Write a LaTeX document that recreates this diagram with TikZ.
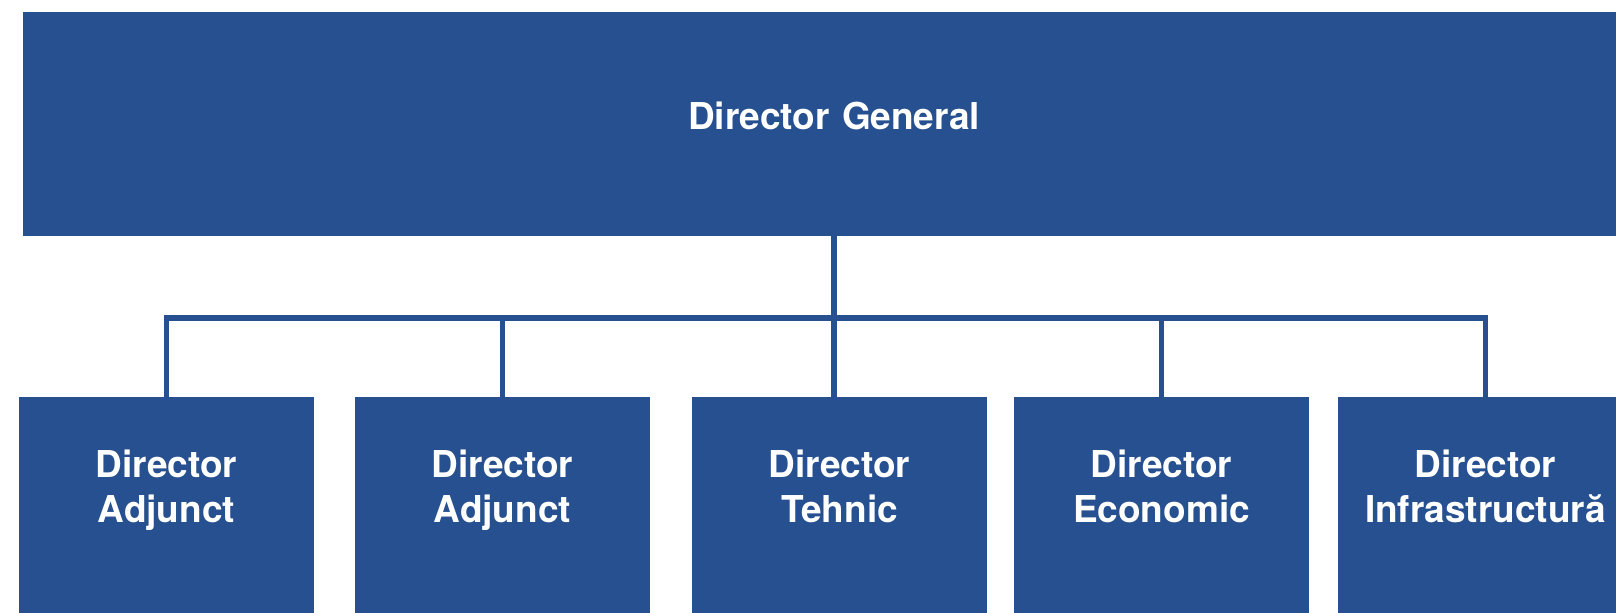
\documentclass[tikz,border=0pt]{standalone}
\usepackage{fontspec}
\setmainfont{TeX Gyre Heros}
\usepackage{tikz}
\usetikzlibrary{positioning}
\definecolor{orgblue}{RGB}{39,80,144}

\begin{document}
\begin{tikzpicture}[x=1pt,y=1pt,
  box/.style={fill=orgblue, text=white, font=\bfseries\fontsize{18.5pt}{22.35pt}\selectfont,
    inner xsep=0pt, inner ysep=0pt, align=center, anchor=north},
  link/.style={draw=orgblue, line width=2.75pt}]
\useasboundingbox (0,0) rectangle (808,-306.5);
\node[box, text width=811pt, text height=58.5pt, text depth=53.35pt] (dg) at (417,-6) {Director General};
\foreach \x/\n/\t in {83.25/1/Adjunct, 251.25/2/Adjunct, 419.75/3/Tehnic, 580.75/4/Economic, 742.75/5/Infrastructură}
  \node[box, text width=147.5pt, text height=40.15pt, text depth=115pt] (d\n) at (\x,-198.5) {Director\\\t};
\coordinate (bus) at (0,-159);
\draw[link] (dg.south) -- (dg.south |- d3.north);
\draw[link] (d1.north) -- (d1.north |- bus) -- (d5.north |- bus) -- (d5.north);
\foreach \n in {2,4}
  \draw[link] (d\n.north |- bus) -- (d\n.north);
\end{tikzpicture}
\end{document}
